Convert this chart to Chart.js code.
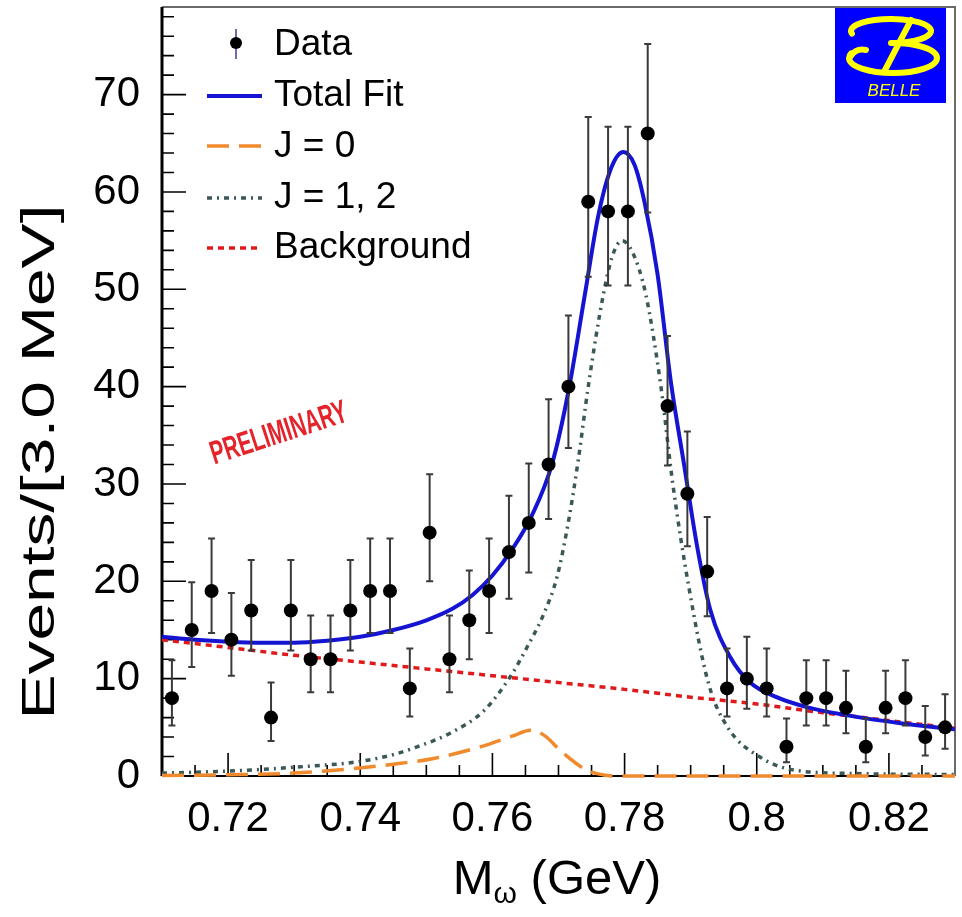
<!DOCTYPE html>
<html>
<head>
<meta charset="utf-8">
<script src="https://cdn.jsdelivr.net/npm/chart.js@4/dist/chart.umd.min.js"></script>
<style>
  html, body { margin: 0; padding: 0; background: #fff; }
  canvas { display: block; }
</style>
</head>
<body>
<canvas id="chart" width="962" height="917"></canvas>
<script>
// 3 MeV bins between 0.71 and 0.83 GeV
const binCenters = [
  0.7115, 0.7145, 0.7175, 0.7205, 0.7235, 0.7265, 0.7295, 0.7325, 0.7355, 0.7385,
  0.7415, 0.7445, 0.7475, 0.7505, 0.7535, 0.7565, 0.7595, 0.7625, 0.7655, 0.7685,
  0.7715, 0.7745, 0.7775, 0.7805, 0.7835, 0.7865, 0.7895, 0.7925, 0.7955, 0.7985,
  0.8015, 0.8045, 0.8075, 0.8105, 0.8135, 0.8165, 0.8195, 0.8225, 0.8255, 0.8285
];
const counts = [
  8, 15, 19, 14, 17, 6, 17, 12, 12, 17,
  19, 19, 9, 25, 12, 16, 19, 23, 26, 32,
  40, 59, 58, 58, 66, 38, 29, 21, 9, 10,
  9, 3, 8, 8, 7, 3, 7, 8, 4, 5
];
const errLow = [
  2.8, 3.8, 4.3, 3.7, 4.1, 2.4, 4.1, 3.4, 3.4, 4.1,
  4.3, 4.3, 2.9, 5.0, 3.4, 4.0, 4.3, 4.8, 5.1, 5.6,
  6.3, 7.7, 7.6, 7.6, 8.1, 6.1, 5.4, 4.6, 2.9, 3.1,
  2.9, 1.6, 2.8, 2.8, 2.6, 1.6, 2.6, 2.8, 1.9, 2.2
];
const errHigh = [
  3.9, 4.9, 5.4, 4.8, 5.2, 3.6, 5.2, 4.5, 4.5, 5.2,
  5.4, 5.4, 4.1, 6.0, 4.5, 5.1, 5.4, 5.8, 6.1, 6.7,
  7.3, 8.7, 8.7, 8.7, 9.2, 7.2, 6.4, 5.6, 4.1, 4.3,
  4.1, 2.9, 3.9, 3.9, 3.8, 2.9, 3.8, 3.9, 3.2, 3.4
];

// fit curves
const totalX = [0.710, 0.715, 0.720, 0.725, 0.730, 0.735, 0.740, 0.745, 0.750, 0.754,
  0.757, 0.760, 0.763, 0.766, 0.769, 0.7715, 0.774, 0.776, 0.778, 0.7798,
  0.7815, 0.783, 0.785, 0.787, 0.789, 0.791, 0.793, 0.796, 0.799, 0.803,
  0.808, 0.814, 0.822, 0.830];
const totalY = [14.3, 14.0, 13.8, 13.7, 13.7, 13.9, 14.3, 15.0, 16.0, 17.2,
  18.6, 20.6, 23.3, 26.8, 32.0, 39.5, 49.5, 57.5, 62.5, 64.1,
  62.8, 59.0, 51.5, 40.5, 32.0, 23.5, 17.0, 12.2, 9.6, 8.1,
  7.0, 6.2, 5.4, 4.8];

const j0X = [0.710, 0.720, 0.730, 0.7402, 0.7461, 0.7511, 0.7587, 0.7630, 0.7658, 0.7680,
  0.7703, 0.7743, 0.7774, 0.7785, 0.830];
const j0Y = [0.05, 0.12, 0.3, 0.85, 1.3, 1.8, 3.1, 4.1, 4.7, 4.1,
  2.6, 0.6, 0.05, 0, 0];

const j12X = [0.710, 0.720, 0.730, 0.740, 0.745, 0.7486, 0.7536, 0.7587, 0.7627, 0.7653,
  0.7678, 0.7698, 0.7716, 0.7730, 0.7745, 0.7768, 0.7782, 0.7796, 0.7812, 0.7832,
  0.7855, 0.7873, 0.7897, 0.7927, 0.7956, 0.8006, 0.8057, 0.815, 0.830];
const j12Y = [0.3, 0.5, 0.9, 1.5, 2.2, 3.0, 4.4, 6.7, 10.2, 13.3,
  16.7, 20.5, 26.5, 32.5, 40.0, 49.5, 53.5, 55.0, 53.8, 49.5,
  40.0, 30.0, 19.5, 9.5, 5.0, 1.9, 0.6, 0.25, 0.15];

const bgX = [0.710, 0.720, 0.730, 0.740, 0.750, 0.760, 0.770, 0.780, 0.790, 0.800, 0.810, 0.820, 0.830];
const bgY = [14.0, 13.2, 12.4, 11.7, 11.0, 10.3, 9.6, 8.9, 8.1, 7.4, 6.5, 5.7, 4.9];

const xTickValues = [0.72, 0.74, 0.76, 0.78, 0.80, 0.82];
const yTickValues = [0, 10, 20, 30, 40, 50, 60, 70];

const FONT = '"Liberation Sans", Arial, Helvetica, sans-serif';

function points(xs, ys) {
  return xs.map((x, i) => ({ x: x, y: ys[i] }));
}

function fitText(ctx, text, x, y, width) {
  const w = ctx.measureText(text).width;
  ctx.save();
  ctx.translate(x, y);
  ctx.scale(width / w, 1);
  ctx.fillText(text, 0, 0);
  ctx.restore();
}

// frame and inward ticks, ROOT style
const frameTicks = {
  id: 'frameTicks',
  beforeDatasetsDraw(chart) {
    const { ctx, chartArea: a, scales: { x, y } } = chart;
    ctx.save();
    ctx.strokeStyle = '#000';
    ctx.lineWidth = 1.6;
    ctx.beginPath();
    for (let v = 2; v <= 78; v += 2) {
      const py = y.getPixelForValue(v);
      const len = v % 10 === 0 ? 24 : 12;
      ctx.moveTo(a.left, py);
      ctx.lineTo(a.left + len, py);
    }
    for (let k = 1; k < 24; k++) {
      const v = 0.71 + k * 0.005;
      const px = x.getPixelForValue(v);
      const len = (k + 2) % 4 === 0 ? 23 : 11;
      ctx.moveTo(px, a.bottom);
      ctx.lineTo(px, a.bottom - len);
    }
    ctx.stroke();
    // top/right frame
    ctx.strokeStyle = '#6a6a6a';
    ctx.lineWidth = 2;
    ctx.beginPath();
    ctx.moveTo(a.left, a.top);
    ctx.lineTo(a.right, a.top);
    ctx.lineTo(a.right, a.bottom);
    ctx.stroke();
    // axes
    ctx.strokeStyle = '#000';
    ctx.lineWidth = 3;
    ctx.beginPath();
    ctx.moveTo(a.left, a.top);
    ctx.lineTo(a.left, a.bottom);
    ctx.stroke();
    ctx.lineWidth = 2;
    ctx.beginPath();
    ctx.moveTo(a.left, a.bottom);
    ctx.lineTo(a.right, a.bottom);
    ctx.stroke();
    ctx.restore();
  }
};

const errorBars = {
  id: 'errorBars',
  beforeDatasetDraw(chart, args) {
    if (args.index !== 0) return;
    const { ctx, scales: { x, y } } = chart;
    ctx.save();
    ctx.strokeStyle = '#3a3a3a';
    ctx.lineWidth = 2;
    ctx.beginPath();
    counts.forEach((n, i) => {
      const px = x.getPixelForValue(binCenters[i]);
      const top = y.getPixelForValue(n + errHigh[i]);
      const bot = y.getPixelForValue(n - errLow[i]);
      ctx.moveTo(px, top); ctx.lineTo(px, bot);
      ctx.moveTo(px - 3.5, top); ctx.lineTo(px + 3.5, top);
      ctx.moveTo(px - 3.5, bot); ctx.lineTo(px + 3.5, bot);
    });
    ctx.stroke();
    ctx.restore();
  }
};

const decorations = {
  id: 'decorations',
  afterDraw(chart) {
    const { ctx } = chart;
    const ds = chart.data.datasets;
    ctx.save();

    // legend
    ctx.font = '37px ' + FONT;
    ctx.fillStyle = '#000';
    ctx.textAlign = 'left';
    ctx.textBaseline = 'alphabetic';
    const rows = [55, 106, 157, 208, 258];
    const lineY = [43, 96, 146, 198, 248];
    // data marker
    ctx.strokeStyle = '#6d6da8';
    ctx.lineWidth = 2;
    ctx.beginPath(); ctx.moveTo(236, 29); ctx.lineTo(236, 59); ctx.stroke();
    ctx.fillStyle = '#000';
    ctx.beginPath(); ctx.arc(236, 43, 6, 0, Math.PI * 2); ctx.fill();
    ctx.fillText(ds[0].label, 274, rows[0]);
    for (let i = 1; i < ds.length; i++) {
      ctx.save();
      ctx.strokeStyle = ds[i].borderColor;
      ctx.lineWidth = ds[i].borderWidth;
      ctx.setLineDash(ds[i].borderDash || []);
      ctx.beginPath(); ctx.moveTo(207, lineY[i]); ctx.lineTo(262, lineY[i]); ctx.stroke();
      ctx.restore();
      ctx.fillText(ds[i].label, 274, rows[i]);
    }

    // y title
    ctx.save();
    ctx.translate(41, 462);
    ctx.rotate(-Math.PI / 2);
    ctx.font = '46px ' + FONT;
    ctx.textAlign = 'center';
    ctx.textBaseline = 'middle';
    fitText(ctx, 'Events/[3.0 MeV]', 0, 0, 515);
    ctx.restore();

    // x title with subscript
    ctx.font = '49px ' + FONT;
    ctx.textAlign = 'left';
    const mW = ctx.measureText('M').width;
    ctx.font = '30px ' + FONT;
    const oW = ctx.measureText('ω').width;
    ctx.font = '49px ' + FONT;
    const rest = ' (GeV)';
    const rW = ctx.measureText(rest).width;
    let x0 = 557 - (mW + oW + rW) / 2;
    ctx.fillText('M', x0, 894);
    ctx.font = '30px ' + FONT;
    ctx.fillText('ω', x0 + mW, 903);
    ctx.font = '49px ' + FONT;
    ctx.fillText(rest, x0 + mW + oW, 894);

    // PRELIMINARY stamp
    ctx.save();
    ctx.translate(279, 434);
    ctx.rotate(-18 * Math.PI / 180);
    ctx.font = 'bold 33px ' + FONT;
    ctx.textAlign = 'center';
    ctx.textBaseline = 'middle';
    ctx.fillStyle = '#e4232b';
    fitText(ctx, 'PRELIMINARY', 0, 0, 142);
    ctx.restore();

    // Belle logo
    ctx.fillStyle = '#0000ff';
    ctx.fillRect(835, 8, 111, 95);
    ctx.strokeStyle = '#ffff00';
    ctx.lineWidth = 6;
    ctx.lineCap = 'round';
    ctx.beginPath();
    ctx.ellipse(891, 31, 40, 12, 0, Math.PI * 0.93, Math.PI * 2.5);
    ctx.stroke();
    ctx.beginPath();
    ctx.ellipse(893, 58, 44, 15, 0, -Math.PI / 2, Math.PI * 1.1);
    ctx.stroke();
    ctx.beginPath();
    ctx.moveTo(911, 20); ctx.lineTo(884, 72);
    ctx.stroke();
    ctx.beginPath();
    ctx.moveTo(851, 56); ctx.quadraticCurveTo(856, 48, 866, 50);
    ctx.stroke();
    ctx.fillStyle = '#ffff00';
    ctx.font = 'italic 17px ' + FONT;
    ctx.textAlign = 'center';
    ctx.textBaseline = 'alphabetic';
    ctx.fillText('BELLE', 894, 96);

    ctx.restore();
  }
};

new Chart(document.getElementById('chart').getContext('2d'), {
  type: 'scatter',
  data: {
    datasets: [
      {
        label: 'Data',
        type: 'scatter',
        data: points(binCenters, counts),
        pointRadius: 7,
        pointHoverRadius: 7,
        backgroundColor: '#000',
        borderColor: '#000',
        borderWidth: 0,
        order: 0
      },
      {
        label: 'Total Fit',
        type: 'line',
        data: points(totalX, totalY),
        borderColor: '#1414d2',
        borderWidth: 4,
        pointRadius: 0,
        cubicInterpolationMode: 'monotone',
        clip: false,
        order: 1
      },
      {
        label: 'J = 0',
        type: 'line',
        data: points(j0X, j0Y),
        borderColor: '#f08a2c',
        borderWidth: 3.5,
        borderDash: [22, 10],
        pointRadius: 0,
        cubicInterpolationMode: 'monotone',
        clip: false,
        order: 3
      },
      {
        label: 'J = 1, 2',
        type: 'line',
        data: points(j12X, j12Y),
        borderColor: '#3b5858',
        borderWidth: 3.5,
        borderDash: [5, 5, 2, 5],
        pointRadius: 0,
        cubicInterpolationMode: 'monotone',
        clip: false,
        order: 4
      },
      {
        label: 'Background',
        type: 'line',
        data: points(bgX, bgY),
        borderColor: '#e01a1a',
        borderWidth: 3.5,
        borderDash: [6, 5],
        pointRadius: 0,
        cubicInterpolationMode: 'monotone',
        clip: false,
        order: 2
      }
    ]
  },
  options: {
    responsive: false,
    animation: false,
    layout: { padding: { top: 7, right: 6, left: 0, bottom: 0 } },
    plugins: {
      legend: { display: false },
      tooltip: { enabled: false }
    },
    scales: {
      x: {
        type: 'linear',
        min: 0.71,
        max: 0.83,
        grid: { display: false, drawTicks: false },
        border: { display: false },
        afterBuildTicks: s => { s.ticks = xTickValues.map(v => ({ value: v })); },
        afterFit: s => { s.height = 141; s.paddingLeft = 0; s.paddingRight = 0; },
        ticks: {
          padding: 18,
          color: '#000',
          maxRotation: 0,
          autoSkip: false,
          font: { family: FONT, size: 42 },
          callback: v => String(v)
        }
      },
      y: {
        min: 0,
        max: 79,
        grid: { display: false, drawTicks: false },
        border: { display: false },
        afterBuildTicks: s => { s.ticks = yTickValues.map(v => ({ value: v })); },
        afterFit: s => { s.width = 162; s.paddingTop = 0; s.paddingBottom = 0; },
        ticks: {
          padding: 22,
          color: '#000',
          font: { family: FONT, size: 42 },
          callback: v => String(v)
        }
      }
    }
  },
  plugins: [frameTicks, errorBars, decorations]
});
</script>
</body>
</html>
